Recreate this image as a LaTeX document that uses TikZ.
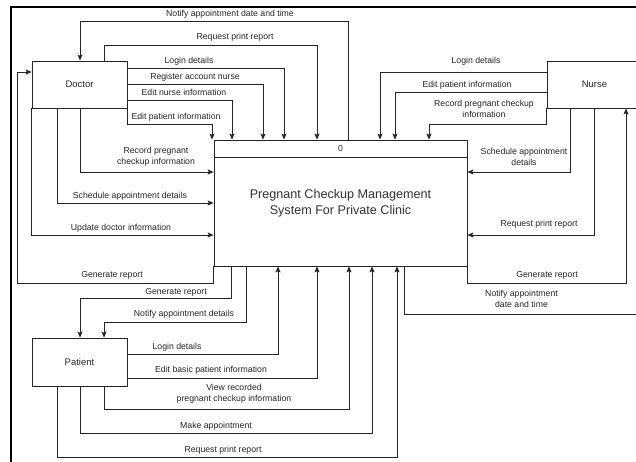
\documentclass[tikz,border=0pt]{standalone}
\usepackage{fontspec}
\setmainfont{Liberation Sans}
\usetikzlibrary{arrows.meta}

\tikzset{
  entity/.style={draw=black!85, line width=0.8pt, rectangle, inner sep=0pt,
    minimum width=95pt, minimum height=47pt, font=\fontsize{9.5}{11}\selectfont, text=black!85},
  flow/.style={draw=black!85, line width=0.8pt, -{Stealth[length=6pt,width=5pt,inset=1.2pt]}},
  wire/.style={draw=black!85, line width=0.8pt},
  lbl/.style={inner sep=0pt, align=center, font=\fontsize{8.7}{11}\selectfont, text=black!85}
}

\begin{document}
\begin{tikzpicture}[x=1pt, y=-1pt]
\useasboundingbox (0,0) rectangle (636,462);
\clip (0,0) rectangle (636,462);
\fill[white] (0,0) rectangle (636,462);

% frame edges
\draw[line width=1.6pt] (11,462) -- (11,7.3) -- (637,7.3);

% external entities
\node[entity] (doc) at (79.5,84.5) {Doctor};
\node[entity] (nurse) at (594.5,84.5) {Nurse};
\node[entity, minimum height=48pt] (pat) at (79.5,362) {Patient};

% process
\node[draw=black!85, line width=0.8pt, rectangle, inner sep=0pt,
      minimum width=253pt, minimum height=126pt, align=center,
      font=\fontsize{12.6}{16}\selectfont, text=black!80] (proc) at (340.5,203)
      {Pregnant Checkup Management\\System For Private Clinic};
\draw[wire] ([yshift=-18pt]proc.north west) -- ([yshift=-18pt]proc.north east);
\node[lbl] (pid) at (340.5,149) {0};

% Doctor flows
\draw[flow] (proc.north -| 348,0) |- (80,21) -- (doc.north -| 80,0);
\node[lbl] (l1) at (230,14) {Notify appointment date and time};
\draw[flow] (doc.north -| 104,0) |- (317,45) -- (proc.north -| 317,0);
\node[lbl] (l2) at (235,37) {Request print report};
\draw[flow] (doc.east |- 0,68) -| (proc.north -| 284,0);
\node[lbl] (l3) at (189,61) {Login details};
\draw[flow] (doc.east |- 0,84) -| (proc.north -| 263,0);
\node[lbl] (l4) at (195,77) {Register account nurse};
\draw[flow] (doc.east |- 0,100) -| (proc.north -| 232,0);
\node[lbl] (l5) at (184,92) {Edit nurse information};
\draw[flow] (doc.south east) |- (212,124) -- (proc.north west -| 212,0);
\node[lbl] (l6) at (176,117) {Edit patient information};
\draw[flow] (doc.south -| 80,0) |- (proc.west |- 0,172);
\node[lbl] (l7) at (156,156.5) {Record pregnant\\checkup information};
\draw[flow] (doc.south -| 57,0) |- (proc.west |- 0,203);
\node[lbl] (l8) at (130,196) {Schedule appointment details};
\draw[flow] (doc.south west) |- (proc.west |- 0,235);
\node[lbl] (l9) at (121,228) {Update doctor information};
\draw[flow] (proc.south west) |- (17,283) |- (doc.west |- 0,72);
\node[lbl] (l10) at (112,275) {Generate report};

% Patient flows
\draw[flow] (proc.south -| 231,0) |- (80,298) -- (pat.north -| 80,0);
\node[lbl] (l11) at (176,292) {Generate report};
\draw[flow] (proc.south -| 246,0) |- (104,322) -- (pat.north -| 104,0);
\node[lbl] (l12) at (184,314) {Notify appointment details};
\draw[flow] (pat.east |- 0,354) -| (proc.south -| 278,0);
\node[lbl] (l13) at (177,347) {Login details};
\draw[flow] (pat.east |- 0,378) -| (proc.south -| 317,0);
\node[lbl] (l14) at (211,370) {Edit basic patient information};
\draw[flow] (pat.south -| 104,0) |- (349,409) -- (proc.south -| 349,0);
\node[lbl] (l15) at (234,394) {View recorded\\pregnant checkup information};
\draw[flow] (pat.south -| 80,0) |- (372,433) -- (proc.south -| 372,0);
\node[lbl] (l16) at (216,426) {Make appointment};
\draw[flow] (pat.south -| 57,0) |- (397,457) -- (proc.south -| 397,0);
\node[lbl] (l17) at (223,450) {Request print report};

% Nurse flows
\draw[flow] (nurse.west |- 0,72) -| (proc.north -| 380,0);
\node[lbl] (l18) at (476,61) {Login details};
\draw[flow] (nurse.west |- 0,92) -| (proc.north -| 395,0);
\node[lbl] (l19) at (467,85) {Edit patient information};
\draw[flow] (nurse.south west) |- (429,124) -- (proc.north -| 429,0);
\node[lbl] (l20) at (484,108.5) {Record pregnant checkup\\information};
\draw[flow] (nurse.south -| 570,0) |- (proc.east |- 0,172);
\node[lbl] (l21) at (524,156.5) {Schedule appointment\\details};
\draw[flow] (nurse.south -| 594,0) |- (proc.east |- 0,235);
\node[lbl] (l22) at (539,224) {Request print report};
\draw[flow] (proc.south east) |- (626,283) -- (nurse.south -| 626,0);
\node[lbl] (l23) at (547,275) {Generate report};
\coordinate (nout) at (640,314);
\draw[wire] (proc.south -| 404,0) |- (nout);
\node[lbl] (l24) at (521.5,299) {Notify appointment\\date and time};
\end{tikzpicture}
\end{document}
